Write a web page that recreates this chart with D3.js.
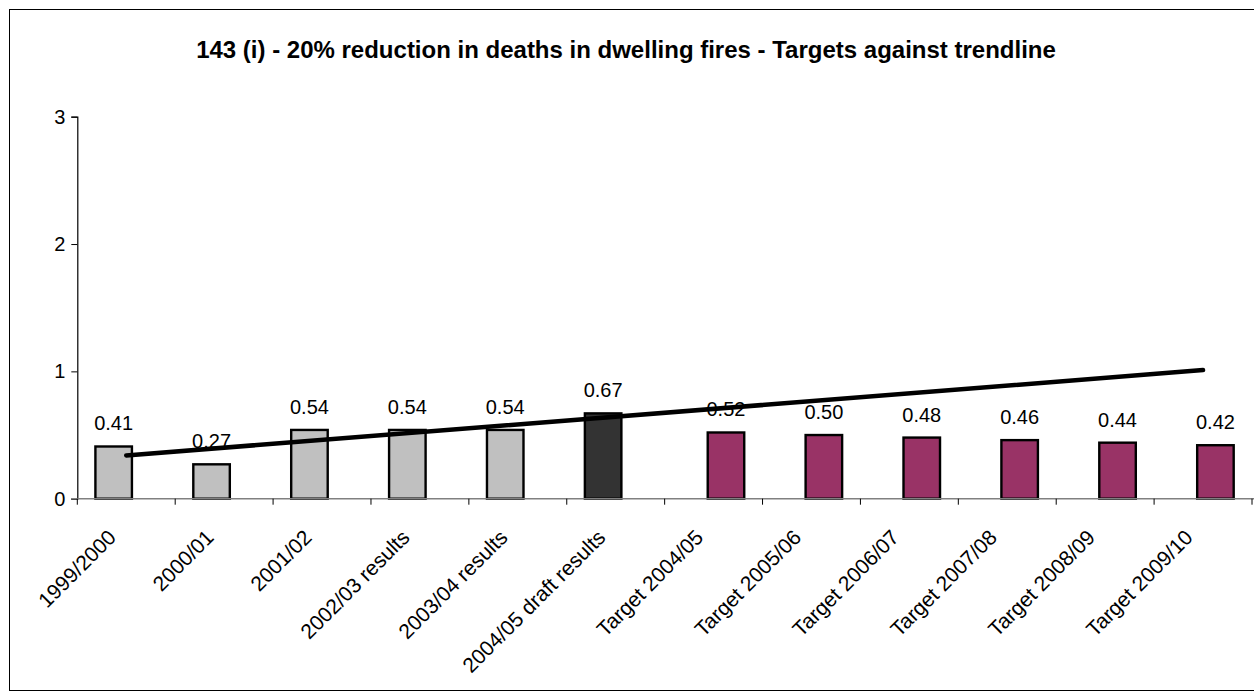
<!DOCTYPE html>
<html>
<head>
<meta charset="utf-8">
<script src="https://cdn.jsdelivr.net/npm/d3@7"></script>
<style>
  html, body { margin: 0; padding: 0; background: #fff; }
  svg { display: block; }
  text { font-family: Arial, "Liberation Sans", sans-serif; fill: #000; }
</style>
</head>
<body>
<svg id="chart" width="1254" height="699"></svg>
<script>
const title = "143 (i) - 20% reduction in deaths in dwelling fires - Targets against trendline";
const categories = ["1999/2000", "2000/01", "2001/02", "2002/03 results", "2003/04 results",
  "2004/05 draft results", "Target 2004/05", "Target 2005/06", "Target 2006/07",
  "Target 2007/08", "Target 2008/09", "Target 2009/10"];
const values = [0.41, 0.27, 0.54, 0.54, 0.54, 0.67, 0.52, 0.50, 0.48, 0.46, 0.44, 0.42];
const labels = ["0.41", "0.27", "0.54", "0.54", "0.54", "0.67", "0.52", "0.50", "0.48", "0.46", "0.44", "0.42"];
const kinds = ["actual", "actual", "actual", "actual", "actual", "draft",
  "target", "target", "target", "target", "target", "target"];
const yTicks = [0, 1, 2, 3];
// trendline endpoints (first and last category)
const trendCats = ["1999/2000", "Target 2009/10"];
const trendValues = [0.34, 1.01];

const colors = { actual: "#C0C0C0", draft: "#333333", target: "#993366" };
const seriesOf = { actual: "s1", draft: "s1", target: "s2" };

const svg = d3.select("#chart");
const pLeft = 77.3, pRight = 1252, pTop = 116.7, pBottom = 498.7;
const FS = 20;

// outer border
svg.append("rect").attr("x", 9.5).attr("y", 9.5).attr("width", 1254).attr("height", 681)
  .attr("fill", "none").attr("stroke", "#000").attr("stroke-width", 1);

svg.append("text").attr("x", 626).attr("y", 58).attr("text-anchor", "middle")
  .attr("font-weight", "bold").attr("font-size", 24).text(title);

const x = d3.scaleBand().domain(categories).range([pLeft, pRight]).padding(0);
const y = d3.scaleLinear().domain([0, 3]).range([pBottom, pTop]);
const bw = x.bandwidth();
const sub = d3.scalePoint().domain(["s1", "s2"]).range([bw * 0.185, bw * 0.44]);
const barW = bw * 0.373;

// y axis
const yAxis = svg.append("g").attr("transform", `translate(${pLeft},0)`)
  .call(d3.axisLeft(y).tickValues(yTicks).tickFormat(d3.format("d")).tickSize(6).tickPadding(6));
yAxis.select(".domain").attr("stroke", "#000").attr("stroke-width", 1.2);
yAxis.selectAll(".tick line").attr("stroke", "#000");
yAxis.selectAll(".tick text").attr("font-size", FS).attr("font-family", "Arial, 'Liberation Sans', sans-serif");

// bars
svg.append("g").selectAll("rect").data(categories).join("rect")
  .attr("x", (d, i) => x(d) + sub(seriesOf[kinds[i]]))
  .attr("y", (d, i) => y(values[i]))
  .attr("width", barW)
  .attr("height", (d, i) => y(0) - y(values[i]))
  .attr("fill", (d, i) => colors[kinds[i]])
  .attr("stroke", "#000").attr("stroke-width", 2.4);

// x axis
const xAxisG = svg.append("g").attr("transform", `translate(0,${pBottom})`);
xAxisG.append("line").attr("x1", pLeft - 6).attr("x2", pRight + 2).attr("y1", 0).attr("y2", 0)
  .attr("stroke", "#808080").attr("stroke-width", 1.5);
const boundaries = categories.map(c => x(c)).concat([x(categories[categories.length - 1]) + bw]);
xAxisG.selectAll("line.tk").data(boundaries).join("line").attr("class", "tk")
  .attr("x1", d => d).attr("x2", d => d).attr("y1", 0).attr("y2", 6)
  .attr("stroke", "#000").attr("stroke-width", 1);

xAxisG.selectAll("text").data(categories).join("text")
  .attr("text-anchor", "end").attr("font-size", 21)
  .attr("transform", d => `translate(${x(d) + bw / 2 - 9},${40}) rotate(-45)`)
  .text(d => d);

// data labels
svg.append("g").selectAll("text").data(categories).join("text")
  .attr("text-anchor", "middle").attr("font-size", FS)
  .attr("x", (d, i) => x(d) + sub(seriesOf[kinds[i]]) + barW / 2)
  .attr("y", (d, i) => y(values[i]) - 16)
  .text((d, i) => labels[i]);

// trendline
const line = d3.line().x(d => x(d[0]) + bw / 2).y(d => y(d[1]));
svg.append("path").datum(trendCats.map((c, i) => [c, trendValues[i]]))
  .attr("d", line).attr("fill", "none").attr("stroke", "#000")
  .attr("stroke-width", 4.5).attr("stroke-linecap", "round");
</script>
</body>
</html>
